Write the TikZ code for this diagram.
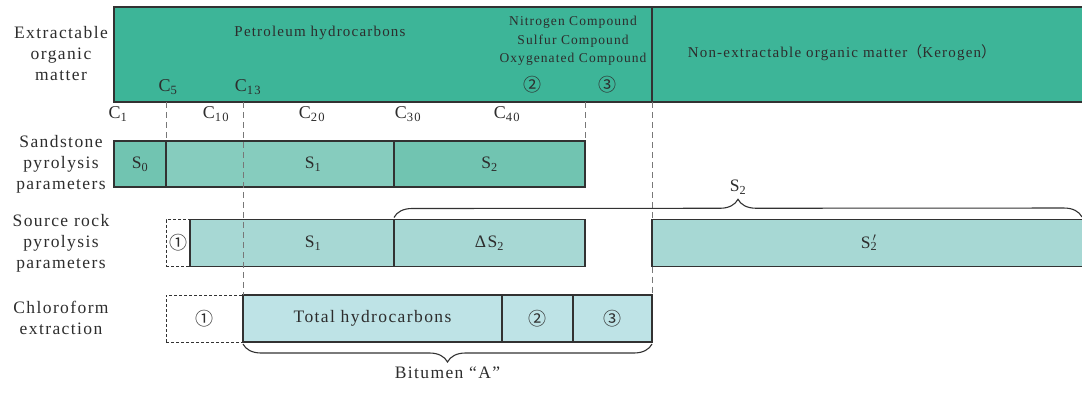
\documentclass[tikz,border=0pt]{standalone}
\usepackage{fontspec}
\setmainfont{Liberation Serif}[LetterSpace=8]
\newfontfamily\cjk{Noto Sans CJK SC}
\usetikzlibrary{positioning, decorations.pathreplacing}
\definecolor{ink}{RGB}{50,50,50}
\definecolor{inktext}{RGB}{45,45,45}
\definecolor{guidegray}{RGB}{120,120,120}
\definecolor{barteal}{RGB}{61,181,152}
\definecolor{sanddark}{RGB}{113,196,177}
\definecolor{sandlight}{RGB}{134,204,190}
\definecolor{srcfill}{RGB}{167,216,212}
\definecolor{chlfill}{RGB}{190,227,230}
\tikzset{
    rowlabel/.style = {align=center, text=inktext, font=\fontsize{17.5}{21}\selectfont},
    cell/.style = {rectangle, draw=ink, line width=1.3pt, minimum height=47pt, inner sep=0pt,
        outer sep=0pt, anchor=west, text=inktext, font=\fontsize{17.5}{21}\selectfont},
    ghost/.style = {cell, draw=ink, line width=1pt, densely dashed, fill=none},
    bartext/.style = {align=center, text=inktext, font=\fontsize{15}{19}\selectfont},
    cmptext/.style = {align=center, text=inktext, font=\fontsize{13.5}{18.5}\selectfont},
    clabel/.style = {text=inktext, inner sep=0pt, font=\fontsize{18}{18}\selectfont},
    circ/.style = {text=inktext, inner sep=0pt, font=\cjk\fontsize{18}{18}\selectfont},
    guide/.style = {draw=guidegray, line width=0.8pt, dash pattern=on 6pt off 4pt},
    brace/.style = {draw=ink, line width=1.1pt, decorate, decoration={brace, amplitude=18pt}},
    x = 1pt, y = -1pt
}
\newcommand{\circnum}[1]{{\cjk\fontsize{18}{18}\selectfont #1}}

\begin{document}
\begin{tikzpicture}
    \useasboundingbox (0,0) rectangle (1082,392);
    % extractable / non-extractable organic matter
    \node [cell, fill=barteal, minimum width=538pt, minimum height=95pt] (eom) at (114,54.5) {};
    \node [cell, fill=barteal, minimum width=434pt, minimum height=95pt, right=0pt of eom] (ker) {};
    \node [bartext] (petro) at (320,33) {Petroleum hydrocarbons};
    \node [cmptext] (nso) at (573,41) {Nitrogen Compound\\Sulfur Compound\\Oxygenated Compound};
    \node [circ] (nsoA) at (532,85) {②};
    \node [circ] (nsoB) at (607,85) {③};
    \node [bartext] (kero) at (842,53) {Non-extractable organic matter{\cjk （}Kerogen{\cjk ）}};
    \node [clabel] (c5) at (168,87) {C\textsubscript{5}};
    \node [clabel] (c13) at (248,87) {C\textsubscript{13}};
    \node [clabel] (c1) at (118,114) {C\textsubscript{1}};
    \node [clabel] (c10) at (216,114) {C\textsubscript{10}};
    \node [clabel] (c20) at (312,114) {C\textsubscript{20}};
    \node [clabel] (c30) at (408,114) {C\textsubscript{30}};
    \node [clabel] (c40) at (507,114) {C\textsubscript{40}};

    % sandstone pyrolysis
    \node [cell, fill=sanddark, minimum width=52pt, minimum height=46pt] (s0) at (114,164) {S\textsubscript{0}};
    \node [cell, fill=sandlight, minimum width=228pt, minimum height=46pt, right=0pt of s0,
        label={[xshift=33pt, text=inktext, font=\fontsize{17.5}{21}\selectfont]center:S\textsubscript{1}}] (s1) {};
    \node [cell, fill=sanddark, minimum width=191pt, minimum height=46pt, right=0pt of s1] (s2) {S\textsubscript{2}};

    % source rock pyrolysis
    \node [ghost, minimum width=24pt] (srcA) at (166,243) {\circnum{①}};
    \node [cell, fill=srcfill, minimum width=204pt, right=0pt of srcA,
        label={[xshift=21pt, text=inktext, font=\fontsize{17.5}{21}\selectfont]center:S\textsubscript{1}}] (srcS1) {};
    \node [cell, fill=srcfill, minimum width=191pt, right=0pt of srcS1] (dS2) {ΔS\textsubscript{2}};
    \node [cell, fill=srcfill, minimum width=434pt] (s2p) at (652,243) {S\rlap{\textsuperscript{\,$\prime$}}\textsubscript{2}};

    % chloroform extraction
    \node [ghost, minimum width=77pt] (chA) at (166,318.5) {\circnum{①}};
    \node [cell, fill=chlfill, minimum width=259pt, right=0pt of chA] (tot) {Total hydrocarbons};
    \node [cell, fill=chlfill, minimum width=71pt, right=0pt of tot] (chB) {\circnum{②}};
    \node [cell, fill=chlfill, minimum width=79pt, right=0pt of chB] (chC) {\circnum{③}};

    % row labels
    \node [rowlabel] (lblEOM) at (61,54) {Extractable\\organic\\matter};
    \node [rowlabel] (lblSand) at (61,164) {Sandstone\\pyrolysis\\parameters};
    \node [rowlabel] (lblSrc) at (61,243) {Source rock\\pyrolysis\\parameters};
    \node [rowlabel] (lblChl) at (61,318) {Chloroform\\extraction};

    % guides
    \draw [guide] (eom.south -| s0.east) -- (s0.north east);
    \draw [guide] (eom.south -| tot.west) -- (tot.north west);
    \draw [guide] (eom.south -| s2.east) -- (s2.north east);
    \draw [guide] (eom.south east) -- (s2p.north west);
    \draw [guide] (s2p.south west) -- (chC.north east);

    % braces
    \coordinate (braceEnd) at (1082,217);
    \draw [brace] ([yshift=2pt]dS2.north west) -- (braceEnd)
        node [midway, above=19pt, text=inktext, font=\fontsize{17.5}{21}\selectfont] (s2all) {S\textsubscript{2}};
    \draw [brace] ([yshift=-2pt]chC.south east) -- ([yshift=-2pt]tot.south west)
        node [midway, below=19pt, text=inktext, font=\fontsize{17.5}{21}\selectfont] (bitu) {Bitumen “A”};
\end{tikzpicture}
\end{document}
